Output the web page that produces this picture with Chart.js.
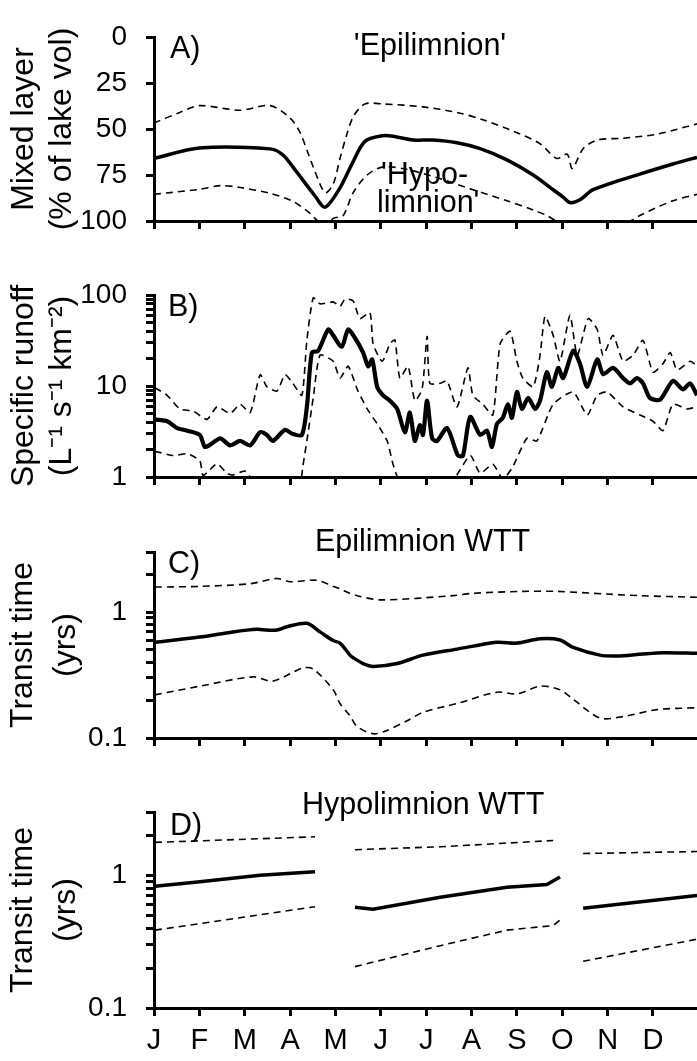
<!DOCTYPE html>
<html><head><meta charset="utf-8">
<script src="https://cdn.jsdelivr.net/npm/chart.js@4.4.1/dist/chart.umd.min.js"></script>
<style>
html,body{margin:0;padding:0;background:#fff;}
body{width:697px;height:1061px;position:relative;overflow:hidden;}
canvas{position:absolute;left:0;}
</style></head><body>
<canvas id="cA" width="697" height="250" style="top:4px;width:697px;height:250px"></canvas>
<canvas id="cB" width="697" height="248" style="top:262px;width:697px;height:248px"></canvas>
<canvas id="cC" width="697" height="252" style="top:519px;width:697px;height:252px"></canvas>
<canvas id="cD" width="697" height="282" style="top:779px;width:697px;height:282px"></canvas>
<script>
// ---------- axis ticks / labels ----------
const monthTicks = [0,1,2,3,4,5,6,7,8,9,10,11];
const monthLabels = ['J','F','M','A','M','J','J','A','S','O','N','D'];
const aTicks = [0,25,50,75,100];
const bTicks = [1,2,3,4,5,6,7,8,9,10,20,30,40,50,60,70,80,90,100];
const bTickLabels = [1,10,100];
const wttTicks = [0.1,0.2,0.3,0.4,0.5,0.6,0.7,0.8,0.9,1,2,3];
const wttTickLabels = [0.1,1];

// ---------- Panel A: mixed layer (% of lake vol), x in months ----------
const aSolidX = [0,1.0,2.56,2.84,3.06,3.55,3.77,4.10,4.39,4.65,5.03,5.27,5.71,6.15,6.68,7.19,7.78,8.36,8.80,9.02,9.17,9.39,9.68,10.71,11.44,11.97];
const aSolidY = [66,60.3,60.8,64,70.6,86.4,92.5,82,67.7,56.7,53.7,53.9,56,56,57.5,60.7,66.8,75,83,87,90,88.5,83,74.5,69,65.4];
const aUpperX = [0,0.57,1.0,1.90,2.56,3.0,3.22,3.51,3.77,3.95,4.10,4.25,4.40,4.65,5.05,5.93,6.68,7.25,8.0,8.51,8.88,9.11,9.22,9.46,9.77,10.34,11.09,11.97];
const aUpperY = [46.7,41,37.3,39.8,37.3,44,52,70.6,84.6,80,66,53,43,36.4,36.4,38,41,45,52,58,66,63.7,71.5,60.7,56,55,52.8,47.2];
const aLowerX = [0,1.0,1.46,1.90,2.56,3.06,3.44,3.55,3.77,3.95,4.17,4.39,4.70,5.05,5.58,6.31,7.03,7.78,8.36,8.66,8.80,9.5,10.2,10.71,11.44,11.97];
const aLowerY = [85.5,82.8,80.8,81.8,85,89.3,95.8,98.6,103,98.6,97,84.6,75,70.6,72,77,83,89,94,97,99,106,104,97,89,85.5];

// ---------- Panel B: specific runoff ----------
const bSolidX = [0.02,0.29,0.51,0.73,1.01,1.12,1.23,1.46,1.68,1.90,2.12,2.34,2.49,2.62,2.89,3.06,3.26,3.37,3.48,3.62,3.84,3.95,4.14,4.28,4.43,4.61,4.72,4.81,4.92,5.05,5.20,5.36,5.53,5.64,5.75,5.86,5.93,6.02,6.13,6.24,6.46,6.70,6.81,6.97,7.19,7.34,7.45,7.56,7.69,7.80,7.89,8.00,8.11,8.25,8.40,8.51,8.66,8.77,8.91,9.02,9.24,9.39,9.55,9.77,9.90,10.12,10.34,10.49,10.65,10.78,10.93,11.16,11.44,11.66,11.82,11.97];
const bSolidY = [4.29,4.1,3.45,3.23,2.9,2.14,2.25,2.66,2.23,2.49,2.23,3.1,2.9,2.49,3.3,2.96,2.9,5.9,23.3,24.4,41.8,36,27,41.8,33.7,23.3,16.5,19.6,9.8,7.9,6.9,5.6,3.1,5.1,2.49,3.7,2.9,6.9,2.66,2.49,3.45,1.72,1.72,4.57,2.9,3.23,2.14,3.84,4.47,6.3,4.47,8.6,5.6,7.4,5.6,6.9,14.2,9.8,15.8,12.2,24.4,17.6,9.8,19.6,13.5,15.8,12.2,10.7,12.2,10.7,7.4,7.1,11.4,9.2,10.7,7.9];
const bUpperX = [0.02,0.29,0.57,0.86,1.17,1.39,1.68,1.90,2.12,2.34,2.49,2.71,2.89,3.06,3.26,3.37,3.51,3.66,3.95,4.10,4.21,4.39,4.54,4.76,4.83,5.03,5.20,5.31,5.42,5.60,5.75,5.91,6.02,6.08,6.31,6.46,6.68,6.92,7.03,7.25,7.47,7.63,7.85,8.00,8.13,8.36,8.51,8.62,8.80,8.95,9.17,9.33,9.57,9.77,9.90,10.12,10.34,10.56,10.78,11.00,11.22,11.38,11.53,11.82,11.97];
const bUpperY = [9.6,7.9,5.6,5.3,4.3,5.9,5.0,6.3,5.1,13.3,9.8,8.8,13.3,10.7,7.9,31.7,93,80,84,75,90,86,55,64,29,18.7,29,32,12.2,16.5,6.9,9.2,35,10.7,10.7,11.4,5.9,15.8,7.9,6.3,4.8,29,40,18.7,12.2,9.8,21.8,58,36,18.7,60,21.8,55,41.8,21.8,36,18.7,21.8,31.7,14.2,17.6,23.3,15,18.7,16.5];
const bLowerX = [0.02,0.42,0.73,1.01,1.08,1.23,1.39,1.61,1.74,2.01,2.23,2.56,2.89,3.22,3.28,3.37,3.51,3.66,3.95,4.10,4.28,4.48,4.70,4.92,5.14,5.27,5.42,5.86,6.53,6.97,7.19,7.47,7.69,7.91,8.22,8.44,8.80,9.24,9.55,9.77,9.99,10.34,10.71,11.00,11.22,11.44,11.75,11.97];
const bLowerY = [1.92,1.72,1.8,1.5,1.04,1.2,1.4,1.1,1.05,1.16,0.85,0.8,0.85,0.9,1.3,2.5,7.4,21.8,18.7,12.2,16.5,9.2,5.6,3.84,2.49,1.38,0.9,0.8,0.85,1.72,1.1,1.38,0.95,1.3,2.66,2.49,6.3,8.6,4.8,7.9,8.6,5.9,4.8,4.1,3.23,6.3,5.6,5.9];

// ---------- Panel C: epilimnion WTT (yrs) ----------
const cSolidX = [0.02,1.0,1.74,2.27,2.49,2.71,2.93,3.37,3.66,3.95,4.10,4.32,4.39,4.61,4.83,5.36,5.93,6.68,7.56,8.0,8.51,8.95,9.24,9.83,10.21,10.71,11.22,11.97];
const cSolidY = [0.576,0.633,0.696,0.73,0.72,0.72,0.765,0.815,0.696,0.594,0.567,0.455,0.434,0.39,0.37,0.39,0.455,0.508,0.576,0.567,0.613,0.6,0.524,0.455,0.448,0.462,0.476,0.47];
const cUpperX = [0.02,1.01,2.12,2.71,3.0,3.59,3.95,4.10,4.32,4.48,4.98,6.59,7.03,8.13,8.88,9.99,10.71,11.97];
const cUpperY = [1.58,1.6,1.68,1.85,1.74,1.79,1.6,1.53,1.41,1.35,1.25,1.35,1.41,1.46,1.46,1.39,1.35,1.31];
const cLowerX = [0.02,1.01,2.18,2.62,3.28,3.51,3.95,4.10,4.32,4.48,4.83,5.09,5.58,5.93,6.68,7.56,8.0,8.51,8.95,9.24,9.83,10.34,11.09,11.97];
const cLowerY = [0.22,0.258,0.306,0.283,0.36,0.353,0.242,0.188,0.15,0.123,0.108,0.113,0.137,0.16,0.188,0.231,0.224,0.258,0.242,0.203,0.144,0.148,0.168,0.174];

// ---------- Panel D: hypolimnion WTT (yrs), null = gap ----------
const dSolidX = [0.02,1.01,2.34,3.55,4.0,4.43,4.83,6.31,7.78,8.66,8.95,9.2,9.46,11.97];
const dSolidY = [0.826,0.895,1.0,1.065,null,0.574,0.556,0.683,0.813,0.853,0.97,null,0.565,0.705];
const dUpperX = [0.02,3.55,4.0,4.43,6.31,8.80,9.2,9.46,11.97];
const dUpperY = [1.77,1.95,null,1.56,1.64,1.83,null,1.46,1.51];
const dLowerX = [0.02,3.55,4.0,4.43,6.31,7.78,8.80,8.95,9.2,9.46,11.97];
const dLowerY = [0.386,0.58,null,0.205,0.295,0.386,0.418,0.46,null,0.225,0.33];

// ---------- rendering ----------
const FONT = '"Liberation Sans", Arial, Helvetica, sans-serif';
Chart.defaults.font.family = FONT;
Chart.defaults.color = '#000';

const notesPlugin = {
  id: 'notes',
  afterDatasetsDraw(chart, args, opts) {
    const ctx = chart.ctx;
    ctx.save();
    ctx.fillStyle = '#000';
    ctx.font = '30.5px ' + FONT;
    ctx.textBaseline = 'middle';
    (opts.items || []).forEach(it => {
      ctx.textAlign = it.align || 'left';
      ctx.fillText(it.text, it.x, it.y - opts.top);
    });
    ctx.restore();
  }
};

function pts(xs, ys) { return xs.map((x, i) => ({x: x, y: ys[i]})); }
function solid(xs, ys, w, t) {
  return {data: pts(xs, ys), borderColor: '#000', borderWidth: w, fill: false,
          tension: t, spanGaps: false, clip: 2, pointRadius: 0};
}
function dashed(xs, ys, t) {
  return {data: pts(xs, ys), borderColor: '#000', borderWidth: 1.6, borderDash: [7, 5],
          fill: false, tension: t, spanGaps: false, clip: 2, pointRadius: 0};
}

function makeChart(id, cfg) {
  const axisGrid = {display: true, drawOnChartArea: false, drawTicks: true, tickLength: 8, color: '#000', lineWidth: 3};
  const y = Object.assign({
    position: 'left',
    border: {display: true, color: '#000', width: 3},
    grid: axisGrid,
    title: {display: true, text: cfg.title, color: '#000',
            font: {size: 32, lineHeight: cfg.titleLH}, padding: {top: cfg.titlePad, bottom: 0}},
    afterFit: s => { s.width = 154; }
  }, cfg.y);
  return new Chart(document.getElementById(id), {
    type: 'line',
    data: {datasets: cfg.datasets},
    options: {
      responsive: false, animation: false, devicePixelRatio: 1,
      layout: {padding: {top: 18, left: 0, right: 0, bottom: 0}},
      plugins: {legend: {display: false}, tooltip: {enabled: false},
                notes: {items: cfg.notes, top: cfg.top}},
      elements: {point: {radius: 0}},
      scales: {
        x: {
          type: 'linear', min: 0, max: 11.97, position: 'bottom',
          border: {display: true, color: '#000', width: 3},
          grid: axisGrid,
          ticks: {autoSkip: false, maxRotation: 0, minRotation: 0, padding: 10, color: '#000',
                  font: {size: 29, lineHeight: 1},
                  callback: (v, i) => cfg.showMonths ? monthLabels[i] : ''},
          afterBuildTicks: s => { s.ticks = monthTicks.map(v => ({value: v})); },
          afterFit: s => { s.height = cfg.xHeight; }
        },
        y: y
      }
    },
    plugins: [notesPlugin]
  });
}

const yTickFont = {size: 28, lineHeight: 1};

// Panel A
makeChart('cA', {
  top: 4, xHeight: 18, showMonths: false,
  title: ['Mixed layer', '(% of lake vol)'], titleLH: 1.19, titlePad: 5,
  y: {type: 'linear', min: 0, max: 100, reverse: true,
      afterBuildTicks: s => { s.ticks = aTicks.map(v => ({value: v})); },
      ticks: {padding: 19, color: '#000', font: yTickFont, callback: v => String(v)}},
  datasets: [solid(aSolidX, aSolidY, 3.5, 0.3), dashed(aUpperX, aUpperY, 0.3), dashed(aLowerX, aLowerY, 0.3)],
  notes: [
    {text: 'A)', x: 170, y: 50},
    {text: "'Epilimnion'", x: 430, y: 47, align: 'center'},
    {text: "'Hypo-", x: 381, y: 176},
    {text: "limnion'", x: 377, y: 204}
  ]
});

// Panel B
makeChart('cB', {
  top: 262, xHeight: 18, showMonths: false,
  title: ['Specific runoff', '(L\u207B\u00B9 s\u207B\u00B9 km\u207B\u00B2)'], titleLH: 1.16, titlePad: 6,
  y: {type: 'logarithmic', min: 1, max: 100,
      afterBuildTicks: s => { s.ticks = bTicks.map(v => ({value: v})); },
      ticks: {padding: 19, color: '#000', font: yTickFont, autoSkip: false,
              callback: v => bTickLabels.includes(v) ? String(v) : ''}},
  datasets: [solid(bSolidX, bSolidY, 4.2, 0.25), dashed(bUpperX, bUpperY, 0.2), dashed(bLowerX, bLowerY, 0.2)],
  notes: [{text: 'B)', x: 168, y: 308}]
});

// Panel C
makeChart('cC', {
  top: 519, xHeight: 18, showMonths: false,
  title: ['Transit time', '(yrs)'], titleLH: 1.34, titlePad: 2,
  y: {type: 'logarithmic', min: 0.1, max: 3,
      afterBuildTicks: s => { s.ticks = wttTicks.map(v => ({value: v})); },
      ticks: {padding: 19, color: '#000', font: yTickFont, autoSkip: false,
              callback: v => wttTickLabels.includes(v) ? String(v) : ''}},
  datasets: [solid(cSolidX, cSolidY, 3.5, 0.3), dashed(cUpperX, cUpperY, 0.3), dashed(cLowerX, cLowerY, 0.3)],
  notes: [
    {text: 'C)', x: 168, y: 565},
    {text: 'Epilimnion WTT', x: 315, y: 543}
  ]
});

// Panel D
makeChart('cD', {
  top: 779, xHeight: 53, showMonths: true,
  title: ['Transit time', '(yrs)'], titleLH: 1.34, titlePad: 2,
  y: {type: 'logarithmic', min: 0.1, max: 3,
      afterBuildTicks: s => { s.ticks = wttTicks.map(v => ({value: v})); },
      ticks: {padding: 19, color: '#000', font: yTickFont, autoSkip: false,
              callback: v => wttTickLabels.includes(v) ? String(v) : ''}},
  datasets: [solid(dSolidX, dSolidY, 3.5, 0), dashed(dUpperX, dUpperY, 0), dashed(dLowerX, dLowerY, 0)],
  notes: [
    {text: 'D)', x: 170, y: 827},
    {text: 'Hypolimnion WTT', x: 302, y: 806}
  ]
});
</script>
</body></html>
